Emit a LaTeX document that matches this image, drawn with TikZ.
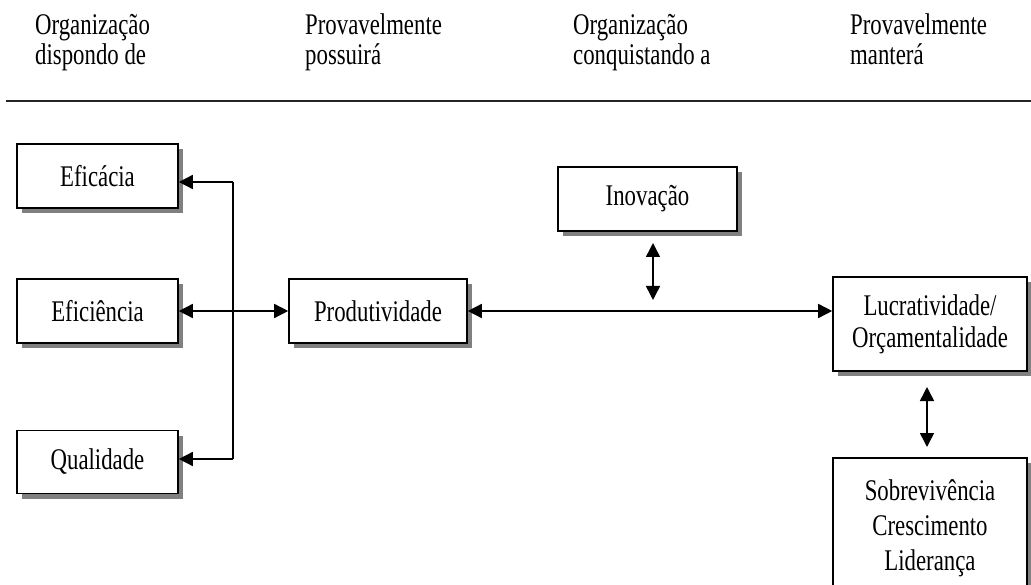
\documentclass[tikz,border=0pt]{standalone}
\usepackage{fontspec}
\setmainfont[FakeStretch=0.76]{Liberation Serif}
\usetikzlibrary{arrows.meta,calc,shadows}
\tikzset{
  box/.style={draw=black, line width=1.6pt, fill=white, inner sep=0pt, align=center,
    font=\fontsize{30}{32}\selectfont,
    drop shadow={shadow xshift=5pt, shadow yshift=-5pt, fill=black!50, opacity=1}},
  hdr/.style={anchor=base west, inner sep=0pt, font=\fontsize{30}{30}\selectfont},
  conn/.style={line width=1.5pt, draw=black},
  tip/.style={-{Triangle[length=14pt,width=14pt]}},
  dtip/.style={{Triangle[length=14pt,width=14pt]}-{Triangle[length=14pt,width=14pt]}},
}
\begin{document}
\begin{tikzpicture}[x=1pt,y=-1pt]
\useasboundingbox (0,0) rectangle (1031,585);
\clip (0,0) rectangle (1031,585);
\fill[white] (0,0) rectangle (1031,585);
% header
\node[hdr] (h1a) at (35,35) {Organização};
\node[hdr] (h1b) at (35,65) {dispondo de};
\node[hdr] (h2a) at (305,35) {Provavelmente};
\node[hdr] (h2b) at (305,65) {possuirá};
\node[hdr] (h3a) at (573,35) {Organização};
\node[hdr] (h3b) at (573,65) {conquistando a};
\node[hdr] (h4a) at (850,35) {Provavelmente};
\node[hdr] (h4b) at (850,65) {manterá};
\draw[line width=2.6pt, black!85] (6,101) -- (1031,101);
% boxes
\node[box, minimum width=161pt, minimum height=64pt] (efic) at (97.5,176) {Eficácia};
\node[box, minimum width=161pt, minimum height=64pt] (efi) at (97.5,311) {Eficiência};
\node[box, minimum width=161pt, minimum height=63pt] (qual) at (97.5,462) {Qualidade};
\node[box, minimum width=178pt, minimum height=64pt] (prod) at (378,311) {Produtividade};
\node[box, minimum width=179pt, minimum height=64pt] (inov) at (647.5,199) {Inovação};
\node[box, minimum width=194pt, minimum height=94pt] (lucr) at (930,324) {\rule{0pt}{12pt}Lucratividade/\\Orçamentalidade};
\node[box, minimum width=194pt, minimum height=140pt, font=\fontsize{30}{35}\selectfont] (sobr) at (930,528) {Sobrevivência\\Crescimento\\Liderança};
% connectors
\coordinate (jt) at (233,182);
\coordinate (jb) at (233,459);
\draw[conn] (jt) -- (jb);
\draw[conn,tip] (jt) -- (jt -| efic.east);
\draw[conn,tip] (jb) -- (jb -| qual.east);
\draw[conn,dtip] (efi.east) -- (prod.west);
\draw[conn,dtip] (prod.east) -- (prod.east -| lucr.west);
\coordinate (i1) at (653,243);
\coordinate (i2) at (653,300);
\draw[conn,dtip] (i1) -- (i2);
\coordinate (l1) at (927,387);
\coordinate (l2) at (927,447);
\draw[conn,dtip] (l1) -- (l2);
\end{tikzpicture}
\end{document}
